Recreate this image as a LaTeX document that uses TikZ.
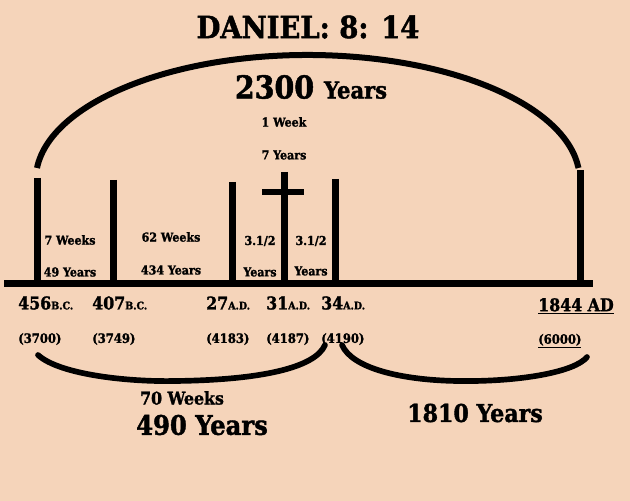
\documentclass[tikz,border=0pt]{standalone}
\usepackage{fontspec}
\setmainfont{DejaVu Serif Condensed}[BoldFeatures={FakeBold=1.5}]
\definecolor{paper}{RGB}{245,212,186}
\begin{document}
\begin{tikzpicture}[x=0.3mm,y=-0.3mm,
    bar/.style={line width=2.1mm},
    brace/.style={line width=1.7mm, line cap=round},
    lbl/.style={font=\bfseries\fontsize{10.5}{12}\selectfont, inner sep=0pt},
    date/.style={font=\bfseries\fontsize{15}{17}\selectfont, inner sep=0pt, anchor=west},
    yr/.style={font=\bfseries\fontsize{11}{12}\selectfont, inner sep=0pt, anchor=west}]
        \fill[paper] (0,0) rectangle (630,501);
        \useasboundingbox (0,0) rectangle (630,501);

        \node[font=\bfseries\fontsize{26}{28}\selectfont, inner sep=0pt] (title) at (308,27) {DANIEL: 8: 14};

        % big arc over the whole period
        \draw[line width=1.8mm] (37,168) arc[start angle=185.5, end angle=354.5, x radius=272, y radius=125];
        \node[inner sep=0pt, font=\bfseries] (total) at (311,87) {\fontsize{27}{29}\selectfont 2300 \fontsize{20}{22}\selectfont Years};

        \node[lbl] (week) at (284,122) {1 Week};
        \node[lbl] (seven) at (284,155) {7 Years};

        % time line
        \draw[bar] (4,283) -- (593,283);
        \draw[bar] (37,178) -- (37,283);
        \draw[bar] (113,180) -- (113,283);
        \draw[bar] (232,182) -- (232,283);
        \draw[bar] (284,172) -- (284,283);
        \draw[line width=1.8mm] (262,192) -- (304,192);
        \draw[bar] (335,179) -- (335,283);
        \draw[bar] (580,170) -- (580,283);

        \node[lbl] (w7) at (70,240) {7 Weeks};
        \node[lbl] (y49) at (70,272) {49 Years};
        \node[lbl] (w62) at (171,237) {62 Weeks};
        \node[lbl] (y434) at (171,270) {434 Years};
        \node[lbl] (halfa) at (260,241) {3.1/2};
        \node[lbl] (yrsa) at (260,272) {Years};
        \node[lbl] (halfb) at (311,241) {3.1/2};
        \node[lbl] (yrsb) at (311,271) {Years};

        % dates
        \node[date] (d456) at (18,303) {456{\fontsize{9}{10}\selectfont B.C.}};
        \node[date] (d407) at (92,303) {407{\fontsize{9}{10}\selectfont B.C.}};
        \node[date] (d27) at (206,303) {27{\fontsize{9}{10}\selectfont A.D.}};
        \node[date] (d31) at (266,303) {31{\fontsize{9}{10}\selectfont A.D.}};
        \node[date] (d34) at (321,303) {34{\fontsize{9}{10}\selectfont A.D.}};
        \node[date] (d1844) at (538,306) {\underline{1844 AD}};

        \node[yr] (a3700) at (18,339) {(3700)};
        \node[yr] (a3749) at (92,339) {(3749)};
        \node[yr] (a4183) at (206,339) {(4183)};
        \node[yr] (a4187) at (266,339) {(4187)};
        \node[yr] (a4190) at (321,339) {(4190)};
        \node[yr] (a6000) at (538,341) {\underline{(6000)}};

        % lower braces
        \draw[brace] (38,355) .. controls (60,375) and (130,382) .. (175,381)
            .. controls (260,380) and (315,368) .. (325,345);
        \draw[brace] (342,345) .. controls (352,368) and (400,380) .. (457,381)
            .. controls (520,382) and (575,372) .. (587,357);

        \node[font=\bfseries\fontsize{15}{17}\selectfont, inner sep=0pt] (w70) at (182,398) {70 Weeks};
        \node[font=\bfseries\fontsize{23}{25}\selectfont, inner sep=0pt] (y490) at (202,425) {490 Years};
        \node[font=\bfseries\fontsize{21}{23}\selectfont, inner sep=0pt] (y1810) at (475,413) {1810 Years};
    \end{tikzpicture}
\end{document}
